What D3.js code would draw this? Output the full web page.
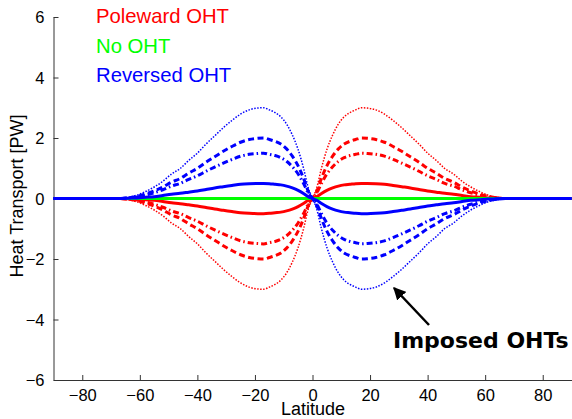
<!DOCTYPE html>
<html>
<head>
<meta charset="utf-8">
<script src="https://cdn.jsdelivr.net/npm/d3@7"></script>
<style>
  html, body { margin: 0; padding: 0; background: #fff; }
  svg { display: block; }
</style>
</head>
<body>
<svg id="chart" width="572" height="419"></svg>
<script>
// ---- data ----
const latitudes = [-90,-80,-70,-67,-64,-61,-58,-55,-52,-49,-46,-43,-40,-37,-34,-31,-28,-25,-22,-19,-17,-15,-13,-11,-9,-7,-5,-3,-1.5,0,1.5,3,5,7,9,11,13,15,17,19,22,25,28,31,34,37,40,43,46,49,52,55,58,61,64,67,70,80,90];

const poleward05 = [0,0,0,0,-0.01,-0.02,-0.04,-0.06,-0.10,-0.14,-0.17,-0.21,-0.25,-0.30,-0.35,-0.39,-0.43,-0.47,-0.49,-0.50,-0.50,-0.49,-0.47,-0.45,-0.41,-0.35,-0.27,-0.16,-0.06,0,0.06,0.16,0.27,0.35,0.41,0.45,0.47,0.49,0.50,0.50,0.49,0.47,0.43,0.39,0.35,0.30,0.25,0.21,0.17,0.14,0.10,0.06,0.04,0.02,0.01,0,0,0,0];
const poleward15 = [0,0,0,0,-0.02,-0.05,-0.11,-0.19,-0.29,-0.41,-0.50,-0.63,-0.75,-0.90,-1.04,-1.17,-1.29,-1.40,-1.46,-1.49,-1.50,-1.46,-1.42,-1.35,-1.23,-1.05,-0.81,-0.48,-0.18,0,0.18,0.48,0.81,1.05,1.23,1.35,1.42,1.46,1.50,1.49,1.46,1.40,1.29,1.17,1.04,0.90,0.75,0.63,0.50,0.41,0.29,0.19,0.11,0.05,0.02,0,0,0,0];
const poleward20 = [0,0,0,0,-0.02,-0.07,-0.15,-0.25,-0.38,-0.54,-0.66,-0.84,-1.00,-1.20,-1.38,-1.56,-1.72,-1.86,-1.95,-1.99,-2.00,-1.95,-1.89,-1.80,-1.64,-1.40,-1.08,-0.64,-0.24,0,0.24,0.64,1.08,1.40,1.64,1.80,1.89,1.95,2.00,1.99,1.95,1.86,1.72,1.56,1.38,1.20,1.00,0.84,0.66,0.54,0.38,0.25,0.15,0.07,0.02,0,0,0,0];
const poleward30 = [0,0,0,0,-0.04,-0.11,-0.23,-0.38,-0.57,-0.81,-0.99,-1.26,-1.50,-1.80,-2.07,-2.34,-2.58,-2.79,-2.93,-2.99,-3.00,-2.93,-2.84,-2.70,-2.46,-2.10,-1.62,-0.96,-0.36,0,0.36,0.96,1.62,2.10,2.46,2.70,2.84,2.93,3.00,2.99,2.93,2.79,2.58,2.34,2.07,1.80,1.50,1.26,0.99,0.81,0.57,0.38,0.23,0.11,0.04,0,0,0,0];

const noOHT = [0,0,0,0,0,0,0,0,0,0,0,0,0,0,0,0,0,0,0,0,0,0,0,0,0,0,0,0,0,0,0,0,0,0,0,0,0,0,0,0,0,0,0,0,0,0,0,0,0,0,0,0,0,0,0,0,0,0,0];

const reversed05 = [0,0,0,0,0.01,0.02,0.04,0.06,0.10,0.14,0.17,0.21,0.25,0.30,0.35,0.39,0.43,0.47,0.49,0.50,0.50,0.49,0.47,0.45,0.41,0.35,0.27,0.16,0.06,0,-0.06,-0.16,-0.27,-0.35,-0.41,-0.45,-0.47,-0.49,-0.50,-0.50,-0.49,-0.47,-0.43,-0.39,-0.35,-0.30,-0.25,-0.21,-0.17,-0.14,-0.10,-0.06,-0.04,-0.02,-0.01,0,0,0,0];
const reversed15 = [0,0,0,0,0.02,0.05,0.11,0.19,0.29,0.41,0.50,0.63,0.75,0.90,1.04,1.17,1.29,1.40,1.46,1.49,1.50,1.46,1.42,1.35,1.23,1.05,0.81,0.48,0.18,0,-0.18,-0.48,-0.81,-1.05,-1.23,-1.35,-1.42,-1.46,-1.50,-1.49,-1.46,-1.40,-1.29,-1.17,-1.04,-0.90,-0.75,-0.63,-0.50,-0.41,-0.29,-0.19,-0.11,-0.05,-0.02,0,0,0,0];
const reversed20 = [0,0,0,0,0.02,0.07,0.15,0.25,0.38,0.54,0.66,0.84,1.00,1.20,1.38,1.56,1.72,1.86,1.95,1.99,2.00,1.95,1.89,1.80,1.64,1.40,1.08,0.64,0.24,0,-0.24,-0.64,-1.08,-1.40,-1.64,-1.80,-1.89,-1.95,-2.00,-1.99,-1.95,-1.86,-1.72,-1.56,-1.38,-1.20,-1.00,-0.84,-0.66,-0.54,-0.38,-0.25,-0.15,-0.07,-0.02,0,0,0,0];
const reversed30 = [0,0,0,0,0.04,0.11,0.23,0.38,0.57,0.81,0.99,1.26,1.50,1.80,2.07,2.34,2.58,2.79,2.93,2.99,3.00,2.93,2.84,2.70,2.46,2.10,1.62,0.96,0.36,0,-0.36,-0.96,-1.62,-2.10,-2.46,-2.70,-2.84,-2.93,-3.00,-2.99,-2.93,-2.79,-2.58,-2.34,-2.07,-1.80,-1.50,-1.26,-0.99,-0.81,-0.57,-0.38,-0.23,-0.11,-0.04,0,0,0,0];

const xTicks = [-80,-60,-40,-20,0,20,40,60,80];
const yTicks = [-6,-4,-2,0,2,4,6];
const legendLabels = ["Poleward OHT", "No OHT", "Reversed OHT"];
const xLabel = "Latitude";
const yLabel = "Heat Transport [PW]";
const annotation = "Imposed OHTs";

// ---- layout ----
const svg = d3.select("#chart");
const x = d3.scaleLinear().domain([-90, 90]).range([53.5, 571.5]);
const y = d3.scaleLinear().domain([-6, 6]).range([380, 17]);
const axisColor = "#333";
const tickFont = "'Liberation Sans', Arial, Helvetica, sans-serif";

// axes
const xAxis = d3.axisBottom(x).tickValues(xTicks).tickSizeInner(-5).tickSizeOuter(0)
  .tickPadding(9).tickFormat(d => d < 0 ? "\u2212" + Math.abs(d) : d);
const yAxis = d3.axisLeft(y).tickValues(yTicks).tickSizeInner(-5).tickSizeOuter(0)
  .tickPadding(9).tickFormat(d => d < 0 ? "\u2212" + Math.abs(d) : d);

const gx = svg.append("g").attr("transform", "translate(0,380)").call(xAxis);
const gy = svg.append("g").attr("transform", "translate(53.5,0)").call(yAxis);
[gx, gy].forEach(g => {
  g.select(".domain").attr("stroke", axisColor).attr("stroke-width", 1);
  g.selectAll(".tick line").attr("stroke", axisColor).attr("stroke-width", 1);
  g.selectAll(".tick text").attr("fill", "#000").style("font-family", tickFont).style("font-size", "16.5px");
});
gy.selectAll(".tick text").attr("dy", "0.36em");

// axis labels
svg.append("text").attr("x", 313).attr("y", 415).attr("text-anchor", "middle")
  .style("font-family", tickFont).style("font-size", "18px").text(xLabel);
svg.append("text").attr("transform", "translate(23,196) rotate(-90)").attr("text-anchor", "middle")
  .style("font-family", tickFont).style("font-size", "18px").text(yLabel);

// lines
const line = d3.line().x((d, i) => x(latitudes[i])).y(d => y(d)).curve(d3.curveMonotoneX);
const styles = {
  solid: { w: 3, dash: null },
  dashdot: { w: 3, dash: "6,3,1.5,3" },
  dashed: { w: 3, dash: "6,3.5" },
  dotted: { w: 1.5, dash: "1.5,1.5" }
};
const seriesList = [
  { v: poleward05, c: "#ff0000", s: "solid" },
  { v: poleward15, c: "#ff0000", s: "dashdot" },
  { v: poleward20, c: "#ff0000", s: "dashed" },
  { v: poleward30, c: "#ff0000", s: "dotted" },
  { v: noOHT, c: "#00ff00", s: "solid" },
  { v: reversed05, c: "#0000ff", s: "solid" },
  { v: reversed15, c: "#0000ff", s: "dashdot" },
  { v: reversed20, c: "#0000ff", s: "dashed" },
  { v: reversed30, c: "#0000ff", s: "dotted" }
];
seriesList.forEach(sr => {
  const st = styles[sr.s];
  svg.append("path").datum(sr.v).attr("d", line)
    .attr("fill", "none").attr("stroke", sr.c).attr("stroke-width", st.w)
    .attr("stroke-dasharray", st.dash).attr("stroke-linejoin", "round");
});

// legend
const legendColors = ["#ff0000", "#00ff00", "#0000ff"];
legendLabels.forEach((t, i) => {
  svg.append("text").attr("x", 96).attr("y", 23 + i * 29.5)
    .attr("fill", legendColors[i]).style("font-family", tickFont).style("font-size", "20.3px").text(t);
});

// annotation arrow
svg.append("defs").append("marker").attr("id", "ah").attr("viewBox", "0 0 10 10")
  .attr("refX", 9).attr("refY", 5).attr("markerWidth", 5).attr("markerHeight", 5)
  .attr("markerUnits", "strokeWidth").attr("orient", "auto")
  .append("path").attr("d", "M0,0 L10,5 L0,10 Z").attr("fill", "#000");
svg.append("line").attr("x1", 429).attr("y1", 325).attr("x2", 394).attr("y2", 288)
  .attr("stroke", "#000").attr("stroke-width", 2.5).attr("marker-end", "url(#ah)");
svg.append("text").attr("x", 393).attr("y", 348)
  .style("font-family", "'DejaVu Sans', sans-serif").style("font-weight", "bold").style("font-size", "22px")
  .text(annotation);
</script>
</body>
</html>
